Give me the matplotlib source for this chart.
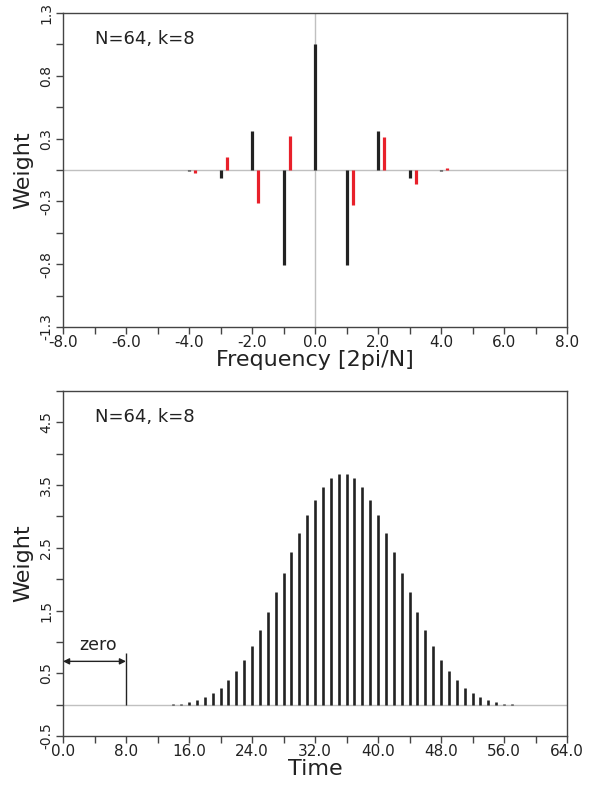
import matplotlib
matplotlib.use("Agg")
import matplotlib.pyplot as plt
from matplotlib.ticker import MultipleLocator

plt.rcParams['font.family'] = ['DejaVu Sans']

# ---- data: frequency response (top) ----
freq_black = [-4, -3, -2, -1, 0, 1, 2, 3, 4]
w_black = [-0.005, -0.065, 0.31, -0.76, 1.0, -0.76, 0.31, -0.065, -0.005]
freq_red = [-3.8, -2.8, -1.8, -0.8, 1.2, 2.2, 3.2, 4.2]
w_red = [-0.02, 0.10, -0.26, 0.27, -0.28, 0.26, -0.11, 0.014]

# ---- data: time weights (bottom) ----
time = list(range(13, 59))
w_time = [0.002, 0.005, 0.016, 0.037, 0.074, 0.117, 0.180, 0.260, 0.387, 0.536,
          0.717, 0.934, 1.194, 1.481, 1.789, 2.102, 2.426, 2.734, 3.025, 3.270,
          3.471, 3.609, 3.678, 3.678, 3.609, 3.471, 3.270, 3.025, 2.734, 2.426,
          2.102, 1.789, 1.481, 1.194, 0.934, 0.717, 0.536, 0.387, 0.260, 0.180,
          0.117, 0.074, 0.037, 0.016, 0.005, 0.002]

top_yticks = [-1.25, -0.75, -0.25, 0.25, 0.75, 1.25]
top_ylabels = ['-1.3', '-0.8', '-0.3', '0.3', '0.8', '1.3']
top_xticks = [-8, -6, -4, -2, 0, 2, 4, 6, 8]
bot_yticks = [-0.5, 0.5, 1.5, 2.5, 3.5, 4.5]
bot_xticks = [0, 8, 16, 24, 32, 40, 48, 56, 64]
annot = "N=64, k=8"

W, H = 611, 788
fig = plt.figure(figsize=(W / 100, H / 100), dpi=100)

spine_c = '#444444'
zero_c = '#c0c0c0'
black_c = '#222222'
red_c = '#e8202a'
text_c = '#222222'


def style(ax):
    for s in ax.spines.values():
        s.set_color(spine_c)
        s.set_linewidth(1.0)
    ax.tick_params(axis='both', which='both', direction='out', length=5, width=1.0,
                   color=spine_c, labelcolor=text_c)
    ax.tick_params(axis='x', labelsize=11, pad=1.0)
    ax.tick_params(axis='y', labelsize=10, pad=2.0)
    for lab in ax.get_yticklabels():
        lab.set_rotation(90)
        lab.set_va('center')


# ---- top axes ----
ax1 = fig.add_axes([63 / W, 1 - 327 / H, 504 / W, 314 / H])
ax1.set_xlim(-8, 8)
ax1.set_ylim(-1.25, 1.25)
ax1.axhline(0, color=zero_c, lw=1.0, zorder=1)
ax1.axvline(0, color=zero_c, lw=1.0, zorder=1)
ax1.vlines(freq_black, 0, w_black, colors=black_c, lw=2.3, zorder=3)
ax1.vlines(freq_red, 0, w_red, colors=red_c, lw=2.3, zorder=3)
ax1.set_xticks(top_xticks)
ax1.set_xticklabels([f"{v:.1f}" for v in top_xticks])
ax1.xaxis.set_minor_locator(MultipleLocator(1))
ax1.set_yticks(top_yticks)
ax1.set_yticklabels(top_ylabels)
ax1.yaxis.set_minor_locator(MultipleLocator(0.25))
style(ax1)
ax1.set_xlabel("Frequency [2pi/N]", fontsize=16, labelpad=0, color=text_c)
ax1.set_ylabel("Weight", fontsize=16, labelpad=4, color=text_c)
ax1.text(32 / 504, 1 - 26 / 314, annot, transform=ax1.transAxes, fontsize=13,
         va='center', ha='left', color=text_c)

# ---- bottom axes ----
ax2 = fig.add_axes([63 / W, 1 - 736 / H, 504 / W, 345 / H])
ax2.set_xlim(0, 64)
ax2.set_ylim(-0.5, 5.0)
ax2.axhline(0, color=zero_c, lw=1.0, zorder=1)
ax2.vlines(time, 0, w_time, colors=black_c, lw=1.9, zorder=3)
ax2.set_xticks(bot_xticks)
ax2.set_xticklabels([f"{v:.1f}" for v in bot_xticks])
ax2.xaxis.set_minor_locator(MultipleLocator(4))
ax2.set_yticks(bot_yticks)
ax2.set_yticklabels([f"{v:.1f}" for v in bot_yticks])
ax2.yaxis.set_minor_locator(MultipleLocator(0.5))
style(ax2)
ax2.set_xlabel("Time", fontsize=16, labelpad=0, color=text_c)
ax2.set_ylabel("Weight", fontsize=16, labelpad=4, color=text_c)
ax2.text(32 / 504, 1 - 26 / 345, annot, transform=ax2.transAxes, fontsize=13,
         va='center', ha='left', color=text_c)

# zero annotation
ax2.vlines([8], 0, 0.83, colors=text_c, lw=1.0, zorder=3)
ax2.annotate('', xy=(0, 0.69), xytext=(8, 0.69),
             arrowprops=dict(arrowstyle='<|-|>', color=text_c, lw=1.0,
                             shrinkA=0, shrinkB=0, mutation_scale=9))
ax2.text(4.4, 0.81, "zero", fontsize=12.5, ha='center', va='bottom', color=text_c)

fig.savefig("out.png", dpi=100)
